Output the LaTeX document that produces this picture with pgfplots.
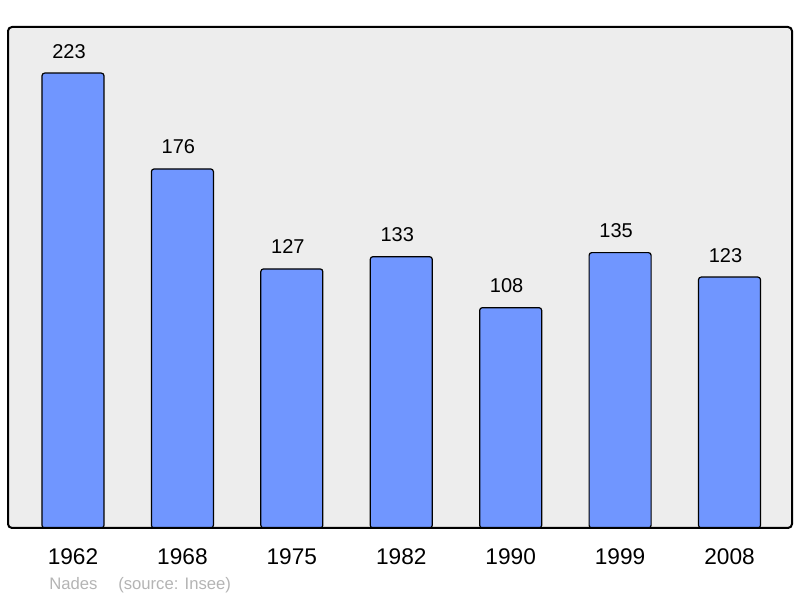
\documentclass[border=0pt]{standalone}
\usepackage{fontspec}
\setmainfont{Liberation Sans}
\usepackage{pgfplots}
\pgfplotsset{compat=1.18}
\definecolor{barblue}{HTML}{7096FF}
\definecolor{bggray}{HTML}{EDEDED}
\definecolor{footgray}{HTML}{B4B4B4}
\begin{document}
\begin{tikzpicture}
\path[use as bounding box] (-6pt,-52.5pt) rectangle (594pt,396pt);
\begin{axis}[
    at={(0,0)}, anchor=south west,
    scale only axis,
    width=588pt, height=375.75pt,
    xmin=-0.594, xmax=6.571,
    ymin=0, ymax=245.6,
    axis line style={draw=none},
    axis background/.style={fill=bggray},
    xtick=data,
    xticklabels={1962,1968,1975,1982,1990,1999,2008},
    xtick style={draw=none},
    ytick=\empty,
    xticklabel style={font=\fontsize{17}{20}\selectfont, anchor=base, yshift=-23.25pt},
    ybar, bar width=46.5pt,
    clip=false,
    nodes near coords,
    every node near coord/.append style={font=\fontsize{15}{18}\selectfont, anchor=base, yshift=11.25pt, xshift=-3pt},
    /pgf/number format/assume math mode=true,
]
\addplot[fill=barblue, draw=black, line width=0.9pt, rounded corners=2pt]
  coordinates {(0,223) (1,176) (2,127) (3,133) (4,108) (5,135) (6,123)};
\draw[line width=1.5pt, rounded corners=3pt] (rel axis cs:0,0) rectangle (rel axis cs:1,1);
\end{axis}
\node[anchor=base west, inner sep=0pt, text=footgray, font=\fontsize{12.5}{15}\selectfont] at (30.75pt,-46.5pt) {Nades};
\node[anchor=base west, inner sep=0pt, text=footgray, font=\fontsize{12.5}{15}\selectfont] at (82.5pt,-46.5pt) {(source: Insee)};
\end{tikzpicture}
\end{document}
